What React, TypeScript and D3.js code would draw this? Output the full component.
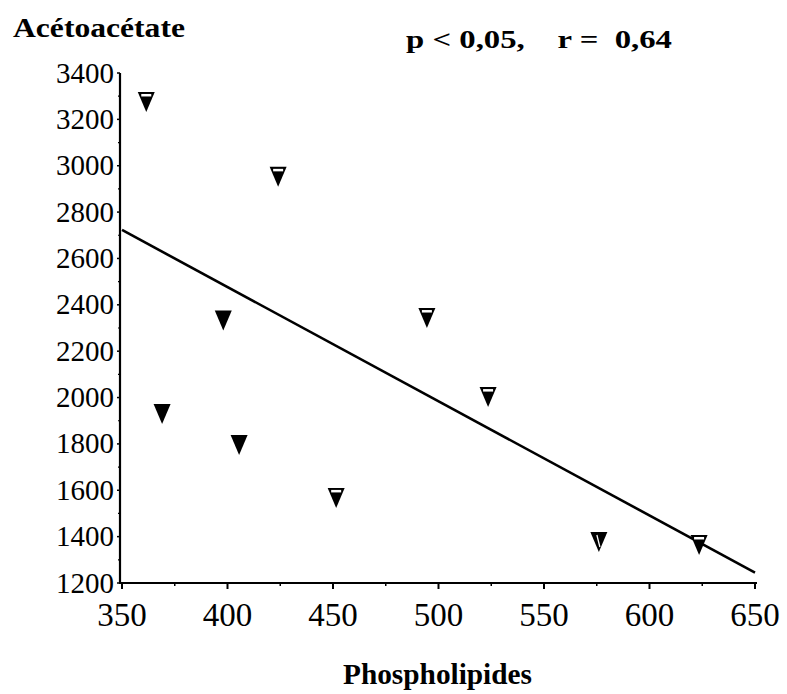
import * as d3 from 'd3'

// Phospholipides (x) vs Acétoacétate (y)
const phospholipides = [361.5, 424, 398, 494.5, 523.5, 576, 623.5, 369, 405.5, 451.5]
const acetoacetate = [3275, 2952, 2332, 2343, 2002, 1377, 1364, 1929, 1795, 1567]
// marker look: 'bar' = triangle with white bar at top, 'full' = plain filled, 'slit' = thin white cut
const markerKind = ['bar', 'bar', 'full', 'bar', 'bar', 'slit', 'bar', 'full', 'full', 'bar']

// regression line end points
const fitX = [350, 650]
const fitY = [2723, 1245]

const xTicks = [350, 400, 450, 500, 550, 600, 650]
const yTicks = [1200, 1400, 1600, 1800, 2000, 2200, 2400, 2600, 2800, 3000, 3200, 3400]

const width = 787
const height = 694
const font = '"Liberation Serif", "Times New Roman", serif'

export default function App() {
  const x = d3.scaleLinear().domain([350, 650]).range([122, 755])
  const y = d3.scaleLinear().domain([1200, 3400]).range([583, 73])

  const minorX = d3.range(350, 651, 25).filter(v => v % 50 !== 0)
  const minorY = d3.range(1300, 3400, 200)

  const line = d3.line<number>()
    .x((_, i) => x(fitX[i]))
    .y(d => y(d))

  const tri = (cx: number, cy: number) => {
    const w = 8.5
    const h = 10
    return `M${cx - w},${cy - h}L${cx + w},${cy - h}L${cx},${cy + h}Z`
  }

  return (
    <div style={{ position: 'absolute', left: 0, top: 0 }}>
      <svg width={width} height={height} style={{ display: 'block', background: '#fff' }}>
        {/* axes */}
        <line x1={120} x2={120} y1={y(3400)} y2={y(1200) + 1} stroke="#000" strokeWidth={2.2} />
        <line x1={120} x2={x(650) + 2} y1={y(1200)} y2={y(1200)} stroke="#000" strokeWidth={2.2} />

        {xTicks.map(t => (
          <g key={'xt' + t}>
            <line x1={x(t)} x2={x(t)} y1={y(1200)} y2={y(1200) + 6} stroke="#000" strokeWidth={2} />
            <text x={x(t)} y={626} textAnchor="middle" fontFamily={font} fontSize={33}>{t}</text>
          </g>
        ))}
        {minorX.map(t => (
          <line key={'xm' + t} x1={x(t)} x2={x(t)} y1={y(1200)} y2={y(1200) + 3} stroke="#000" strokeWidth={1.5} />
        ))}

        {yTicks.map(t => (
          <g key={'yt' + t}>
            <line x1={117} x2={120} y1={y(t)} y2={y(t)} stroke="#000" strokeWidth={1.5} />
            <text x={114} y={y(t) + 9.5} textAnchor="end" fontFamily={font} fontSize={29}>{t}</text>
          </g>
        ))}
        {minorY.map(t => (
          <line key={'ym' + t} x1={118} x2={120} y1={y(t)} y2={y(t)} stroke="#000" strokeWidth={1.2} />
        ))}

        {/* regression line */}
        <path d={line(fitY) ?? ''} fill="none" stroke="#000" strokeWidth={2.6} />

        {/* points */}
        {phospholipides.map((px, i) => {
          const cx = x(px)
          const cy = y(acetoacetate[i])
          const kind = markerKind[i]
          return (
            <g key={'p' + i}>
              <path d={tri(cx, cy)} fill="#000" />
              {kind === 'bar' && (
                <rect x={cx - 5} y={cy - 8} width={10} height={2.5} fill="#fff" />
              )}
              {kind === 'slit' && (
                <line x1={cx - 2} x2={cx + 1} y1={cy - 7} y2={cy + 5} stroke="#fff" strokeWidth={1.3} />
              )}
            </g>
          )
        })}

        {/* titles */}
        <text x={13} y={37} fontFamily={font} fontSize={28} fontWeight="bold"
          textLength={172} lengthAdjust="spacingAndGlyphs">Acétoacétate</text>
        <text x={406} y={48} fontFamily={font} fontSize={25} fontWeight="bold" xmlSpace="preserve"
          textLength={266} lengthAdjust="spacingAndGlyphs">
          {'p < 0,05,    r =  0,64'}
        </text>
        <text x={343} y={684} fontFamily={font} fontSize={29} fontWeight="bold"
          textLength={189} lengthAdjust="spacingAndGlyphs">Phospholipides</text>
      </svg>
    </div>
  )
}
